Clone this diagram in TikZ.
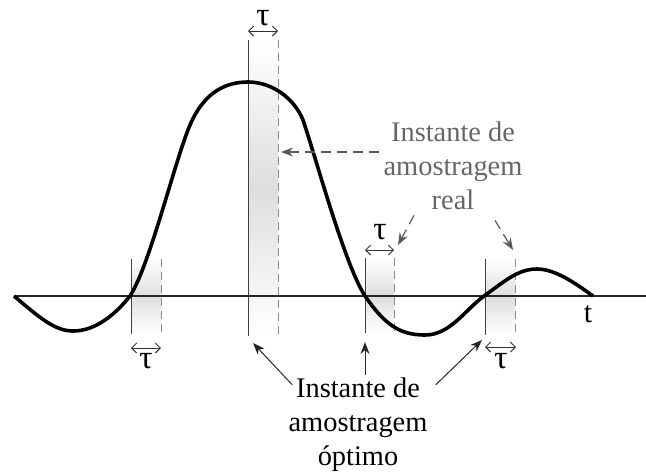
\documentclass[tikz,border=0pt]{standalone}
\usepackage{fontspec}
\setmainfont{Liberation Serif}
\usetikzlibrary{arrows.meta}
\tikzset{
  wave/.style={line width=1.8pt, line join=round},
  optline/.style={black!75, line width=0.5pt},
  realline/.style={black!45, line width=0.5pt, dash pattern=on 4pt off 2.5pt},
  band/.style={top color=white, bottom color=white, middle color=black!13},
  tauarrow/.style={black!80, line width=0.45pt, {Straight Barb[length=2.5pt,width=5pt]}-{Straight Barb[length=2.5pt,width=5pt]}},
  optarrow/.style={black!85, line width=0.5pt, -{Stealth[length=6pt,width=4.5pt]}},
  realarrow/.style={black!65, line width=0.6pt, dash pattern=on 5pt off 3pt, -{Stealth[length=6pt,width=4.5pt]}},
  lbl/.style={font=\fontsize{14.2}{17}\selectfont, align=center, inner sep=0pt},
  taulbl/.style={font=\fontsize{16.5}{17}\selectfont, inner sep=0pt, anchor=base},
}
\begin{document}
\begin{tikzpicture}[x=0.5pt,y=-0.5pt]
\useasboundingbox (0,0) rectangle (646,473);

\shade[band] (131,259) rectangle (161,334);
\shade[band] (248,40) rectangle (278,336);
\shade[band] (365,258) rectangle (394,333);
\shade[band] (485,259) rectangle (515,335);

\draw[black!85, line width=1pt] (14,296) -- (646,296);

\draw[optline] (131,259) -- (131,334);
\draw[optline] (248,40) -- (248,336);
\draw[optline] (365,258) -- (365,333);
\draw[optline] (485,259) -- (485,335);
\draw[realline] (161,259) -- (161,334);
\draw[realline] (278,40) -- (278,336);
\draw[realline] (394,258) -- (394,333);
\draw[realline] (515,259) -- (515,335);

\draw[wave] (14,296) .. controls (40,318) and (55,331) .. (73,331)
  .. controls (95,331) and (115,315) .. (130,296)
  .. controls (150,265) and (175,160) .. (190,125)
  .. controls (205,90) and (228,82) .. (248,82)
  .. controls (272,82) and (294,98) .. (303,120)
  .. controls (318,165) and (345,265) .. (365,296)
  .. controls (385,325) and (400,335) .. (425,335)
  .. controls (450,335) and (465,310) .. (484,296)
  .. controls (505,281) and (518,269) .. (537,269)
  .. controls (555,269) and (575,283) .. (593,296);

\node[lbl, anchor=base, font=\fontsize{15}{17}\selectfont] (t) at (588,322) {t};

\node[taulbl] (tau2) at (263,25) {τ};
\node[taulbl] (tau1) at (146,368) {τ};
\node[taulbl] (tau3) at (380,239) {τ};
\node[taulbl] (tau4) at (501,368) {τ};

\coordinate (a2l) at (248,31);
\coordinate (a2r) at (278,31);
\coordinate (a1l) at (131,348);
\coordinate (a1r) at (161,348);
\coordinate (a3l) at (365,250);
\coordinate (a3r) at (394,250);
\coordinate (a4l) at (485,347);
\coordinate (a4r) at (516,347);
\draw[tauarrow] (a2l) -- (a2r);
\draw[tauarrow] (a1l) -- (a1r);
\draw[tauarrow] (a3l) -- (a3r);
\draw[tauarrow] (a4l) -- (a4r);

\node[lbl, text=black!60] (real) at (453,166) {Instante de\\amostragem\\real};
\node[lbl] (opt) at (358,425) {Instante de\\amostragem\\óptimo};

\coordinate (r2) at (281,152);
\coordinate (r3) at (398,245);
\coordinate (r4) at (513,250);
\coordinate (o2) at (253,343);
\coordinate (o3) at (365,342);
\coordinate (o4) at (482,340);

\draw[realarrow] ([shift={(-4,-14)}]real.west) -- (r2);
\draw[realarrow] ([shift={(-39,5)}]real.south) -- (r3);
\draw[realarrow] ([shift={(42,10)}]real.south) -- (r4);

\draw[optarrow] ([shift={(4,7)}]opt.north west) -- (o2);
\draw[optarrow] ([shift={(7,-3)}]opt.north) -- (o3);
\draw[optarrow] ([shift={(8,7)}]opt.north east) -- (o4);
\end{tikzpicture}
\end{document}
